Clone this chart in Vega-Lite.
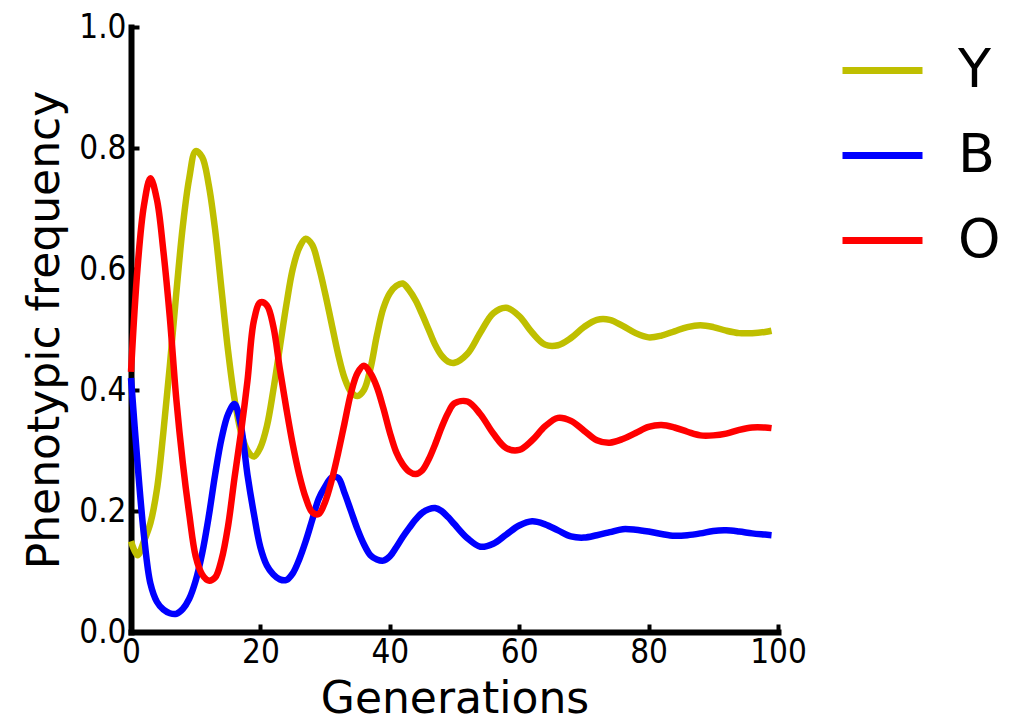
{
  "$schema": "https://vega.github.io/schema/vega-lite/v6.json",
  "autosize": "none",
  "width": 647,
  "height": 605,
  "padding": {"left": 131, "top": 27, "right": 238, "bottom": 88},
  "background": "white",
  "config": {"view": {"stroke": null}},
  "data": {"values": [
    {"g":0,"s":"Y","v":0.150},{"g":1,"s":"Y","v":0.127},{"g":2,"s":"Y","v":0.150},{"g":3,"s":"Y","v":0.180},{"g":4,"s":"Y","v":0.235},{"g":5,"s":"Y","v":0.330},{"g":6,"s":"Y","v":0.440},{"g":7,"s":"Y","v":0.560},{"g":8,"s":"Y","v":0.670},{"g":9,"s":"Y","v":0.750},{"g":10,"s":"Y","v":0.795},{"g":11,"s":"Y","v":0.785},{"g":12,"s":"Y","v":0.740},{"g":13,"s":"Y","v":0.665},{"g":14,"s":"Y","v":0.565},{"g":15,"s":"Y","v":0.465},{"g":16,"s":"Y","v":0.385},{"g":17,"s":"Y","v":0.330},{"g":18,"s":"Y","v":0.300},{"g":19,"s":"Y","v":0.290},{"g":20,"s":"Y","v":0.305},{"g":21,"s":"Y","v":0.340},{"g":22,"s":"Y","v":0.400},{"g":23,"s":"Y","v":0.470},{"g":24,"s":"Y","v":0.540},{"g":25,"s":"Y","v":0.600},{"g":26,"s":"Y","v":0.635},{"g":27,"s":"Y","v":0.650},{"g":28,"s":"Y","v":0.640},{"g":29,"s":"Y","v":0.605},{"g":30,"s":"Y","v":0.560},{"g":31,"s":"Y","v":0.510},{"g":32,"s":"Y","v":0.460},{"g":33,"s":"Y","v":0.420},{"g":34,"s":"Y","v":0.397},{"g":35,"s":"Y","v":0.390},{"g":36,"s":"Y","v":0.400},{"g":37,"s":"Y","v":0.435},{"g":38,"s":"Y","v":0.490},{"g":39,"s":"Y","v":0.535},{"g":40,"s":"Y","v":0.560},{"g":41,"s":"Y","v":0.572},{"g":42,"s":"Y","v":0.576},{"g":43,"s":"Y","v":0.565},{"g":44,"s":"Y","v":0.548},{"g":45,"s":"Y","v":0.525},{"g":46,"s":"Y","v":0.500},{"g":47,"s":"Y","v":0.475},{"g":48,"s":"Y","v":0.457},{"g":49,"s":"Y","v":0.447},{"g":50,"s":"Y","v":0.445},{"g":52,"s":"Y","v":0.460},{"g":54,"s":"Y","v":0.495},{"g":56,"s":"Y","v":0.527},{"g":58,"s":"Y","v":0.536},{"g":60,"s":"Y","v":0.522},{"g":62,"s":"Y","v":0.495},{"g":64,"s":"Y","v":0.475},{"g":66,"s":"Y","v":0.474},{"g":68,"s":"Y","v":0.486},{"g":70,"s":"Y","v":0.504},{"g":72,"s":"Y","v":0.516},{"g":74,"s":"Y","v":0.516},{"g":76,"s":"Y","v":0.506},{"g":78,"s":"Y","v":0.494},{"g":80,"s":"Y","v":0.487},{"g":82,"s":"Y","v":0.490},{"g":84,"s":"Y","v":0.497},{"g":86,"s":"Y","v":0.504},{"g":88,"s":"Y","v":0.507},{"g":90,"s":"Y","v":0.504},{"g":92,"s":"Y","v":0.498},{"g":94,"s":"Y","v":0.494},{"g":96,"s":"Y","v":0.494},{"g":98,"s":"Y","v":0.496},{"g":99,"s":"Y","v":0.498},
    {"g":0,"s":"B","v":0.420},{"g":1,"s":"B","v":0.280},{"g":2,"s":"B","v":0.160},{"g":3,"s":"B","v":0.080},{"g":4,"s":"B","v":0.050},{"g":5,"s":"B","v":0.037},{"g":6,"s":"B","v":0.031},{"g":7,"s":"B","v":0.030},{"g":8,"s":"B","v":0.038},{"g":9,"s":"B","v":0.055},{"g":10,"s":"B","v":0.085},{"g":11,"s":"B","v":0.130},{"g":12,"s":"B","v":0.190},{"g":13,"s":"B","v":0.260},{"g":14,"s":"B","v":0.320},{"g":15,"s":"B","v":0.360},{"g":16,"s":"B","v":0.377},{"g":17,"s":"B","v":0.340},{"g":18,"s":"B","v":0.260},{"g":19,"s":"B","v":0.195},{"g":20,"s":"B","v":0.140},{"g":21,"s":"B","v":0.110},{"g":22,"s":"B","v":0.095},{"g":23,"s":"B","v":0.087},{"g":24,"s":"B","v":0.086},{"g":25,"s":"B","v":0.097},{"g":26,"s":"B","v":0.120},{"g":27,"s":"B","v":0.150},{"g":28,"s":"B","v":0.185},{"g":29,"s":"B","v":0.220},{"g":30,"s":"B","v":0.240},{"g":31,"s":"B","v":0.255},{"g":32,"s":"B","v":0.255},{"g":33,"s":"B","v":0.230},{"g":34,"s":"B","v":0.200},{"g":35,"s":"B","v":0.170},{"g":36,"s":"B","v":0.145},{"g":37,"s":"B","v":0.127},{"g":38,"s":"B","v":0.120},{"g":39,"s":"B","v":0.118},{"g":40,"s":"B","v":0.125},{"g":41,"s":"B","v":0.140},{"g":42,"s":"B","v":0.157},{"g":43,"s":"B","v":0.172},{"g":44,"s":"B","v":0.186},{"g":45,"s":"B","v":0.197},{"g":46,"s":"B","v":0.203},{"g":47,"s":"B","v":0.205},{"g":48,"s":"B","v":0.200},{"g":49,"s":"B","v":0.190},{"g":50,"s":"B","v":0.178},{"g":52,"s":"B","v":0.155},{"g":54,"s":"B","v":0.141},{"g":56,"s":"B","v":0.146},{"g":58,"s":"B","v":0.161},{"g":60,"s":"B","v":0.176},{"g":62,"s":"B","v":0.183},{"g":64,"s":"B","v":0.178},{"g":66,"s":"B","v":0.168},{"g":68,"s":"B","v":0.158},{"g":70,"s":"B","v":0.156},{"g":72,"s":"B","v":0.160},{"g":74,"s":"B","v":0.165},{"g":76,"s":"B","v":0.170},{"g":78,"s":"B","v":0.169},{"g":80,"s":"B","v":0.166},{"g":82,"s":"B","v":0.162},{"g":84,"s":"B","v":0.159},{"g":86,"s":"B","v":0.160},{"g":88,"s":"B","v":0.163},{"g":90,"s":"B","v":0.167},{"g":92,"s":"B","v":0.168},{"g":94,"s":"B","v":0.166},{"g":96,"s":"B","v":0.163},{"g":98,"s":"B","v":0.161},{"g":99,"s":"B","v":0.160},
    {"g":0,"s":"O","v":0.430},{"g":1,"s":"O","v":0.600},{"g":2,"s":"O","v":0.705},{"g":3,"s":"O","v":0.750},{"g":4,"s":"O","v":0.715},{"g":5,"s":"O","v":0.630},{"g":6,"s":"O","v":0.520},{"g":7,"s":"O","v":0.385},{"g":8,"s":"O","v":0.280},{"g":9,"s":"O","v":0.195},{"g":10,"s":"O","v":0.125},{"g":11,"s":"O","v":0.095},{"g":12,"s":"O","v":0.085},{"g":13,"s":"O","v":0.090},{"g":14,"s":"O","v":0.120},{"g":15,"s":"O","v":0.175},{"g":16,"s":"O","v":0.255},{"g":17,"s":"O","v":0.330},{"g":18,"s":"O","v":0.415},{"g":19,"s":"O","v":0.515},{"g":20,"s":"O","v":0.545},{"g":21,"s":"O","v":0.540},{"g":22,"s":"O","v":0.505},{"g":23,"s":"O","v":0.435},{"g":24,"s":"O","v":0.370},{"g":25,"s":"O","v":0.310},{"g":26,"s":"O","v":0.260},{"g":27,"s":"O","v":0.222},{"g":28,"s":"O","v":0.198},{"g":29,"s":"O","v":0.195},{"g":30,"s":"O","v":0.215},{"g":31,"s":"O","v":0.250},{"g":32,"s":"O","v":0.295},{"g":33,"s":"O","v":0.345},{"g":34,"s":"O","v":0.395},{"g":35,"s":"O","v":0.428},{"g":36,"s":"O","v":0.440},{"g":37,"s":"O","v":0.428},{"g":38,"s":"O","v":0.405},{"g":39,"s":"O","v":0.370},{"g":40,"s":"O","v":0.330},{"g":41,"s":"O","v":0.297},{"g":42,"s":"O","v":0.277},{"g":43,"s":"O","v":0.265},{"g":44,"s":"O","v":0.261},{"g":45,"s":"O","v":0.267},{"g":46,"s":"O","v":0.285},{"g":47,"s":"O","v":0.310},{"g":48,"s":"O","v":0.338},{"g":49,"s":"O","v":0.362},{"g":50,"s":"O","v":0.378},{"g":52,"s":"O","v":0.381},{"g":54,"s":"O","v":0.360},{"g":56,"s":"O","v":0.328},{"g":58,"s":"O","v":0.304},{"g":60,"s":"O","v":0.301},{"g":62,"s":"O","v":0.317},{"g":64,"s":"O","v":0.340},{"g":66,"s":"O","v":0.354},{"g":68,"s":"O","v":0.349},{"g":70,"s":"O","v":0.333},{"g":72,"s":"O","v":0.317},{"g":74,"s":"O","v":0.313},{"g":76,"s":"O","v":0.319},{"g":78,"s":"O","v":0.329},{"g":80,"s":"O","v":0.339},{"g":82,"s":"O","v":0.342},{"g":84,"s":"O","v":0.338},{"g":86,"s":"O","v":0.331},{"g":88,"s":"O","v":0.325},{"g":90,"s":"O","v":0.325},{"g":92,"s":"O","v":0.328},{"g":94,"s":"O","v":0.334},{"g":96,"s":"O","v":0.338},{"g":98,"s":"O","v":0.338},{"g":99,"s":"O","v":0.337}
  ]},
  "mark": {"type": "line", "strokeWidth": 6.5, "interpolate": "catmull-rom", "clip": false},
  "encoding": {
    "x": {
      "field": "g", "type": "quantitative",
      "scale": {"domain": [0, 100], "nice": false, "zero": false},
      "axis": {
        "title": "Generations", "values": [0, 20, 40, 60, 80, 100], "format": "d",
        "grid": false, "domainColor": "black", "domainWidth": 6, "domainCap": "square",
        "tickColor": "black", "tickWidth": 4, "tickSize": -8,
        "labelFont": "DejaVu Sans Condensed, DejaVu Sans", "labelFontSize": 33, "labelColor": "black",
        "labelPadding": 12, "labelFlush": false, "labelOverlap": false,
        "titleFont": "DejaVu Sans", "titleFontSize": 44, "titleFontWeight": "normal", "titleColor": "black",
        "titlePadding": 8
      }
    },
    "y": {
      "field": "v", "type": "quantitative",
      "scale": {"domain": [0, 1], "nice": false},
      "axis": {
        "title": "Phenotypic frequency", "values": [0, 0.2, 0.4, 0.6, 0.8, 1.0], "format": ".1f",
        "grid": false, "domainColor": "black", "domainWidth": 6, "domainCap": "square",
        "tickColor": "black", "tickWidth": 4, "tickSize": -8,
        "labelFont": "DejaVu Sans Condensed, DejaVu Sans", "labelFontSize": 33, "labelColor": "black",
        "labelPadding": 13, "labelFlush": false, "labelOverlap": false,
        "titleFont": "DejaVu Sans", "titleFontSize": 44, "titleFontWeight": "normal", "titleColor": "black",
        "titlePadding": 11
      }
    },
    "color": {
      "field": "s", "type": "nominal",
      "scale": {"domain": ["Y", "B", "O"], "range": ["#BFBF00", "#0000FF", "#FF0000"]},
      "legend": {
        "title": null, "orient": "none", "legendX": 708, "legendY": 0, "padding": 0,
        "symbolType": "stroke", "symbolSize": 6400, "symbolStrokeWidth": 7,
        "labelFont": "DejaVu Sans", "labelFontSize": 54, "labelColor": "black",
        "labelOffset": 32, "rowPadding": 14, "labelLimit": 0
      }
    }
  }
}
